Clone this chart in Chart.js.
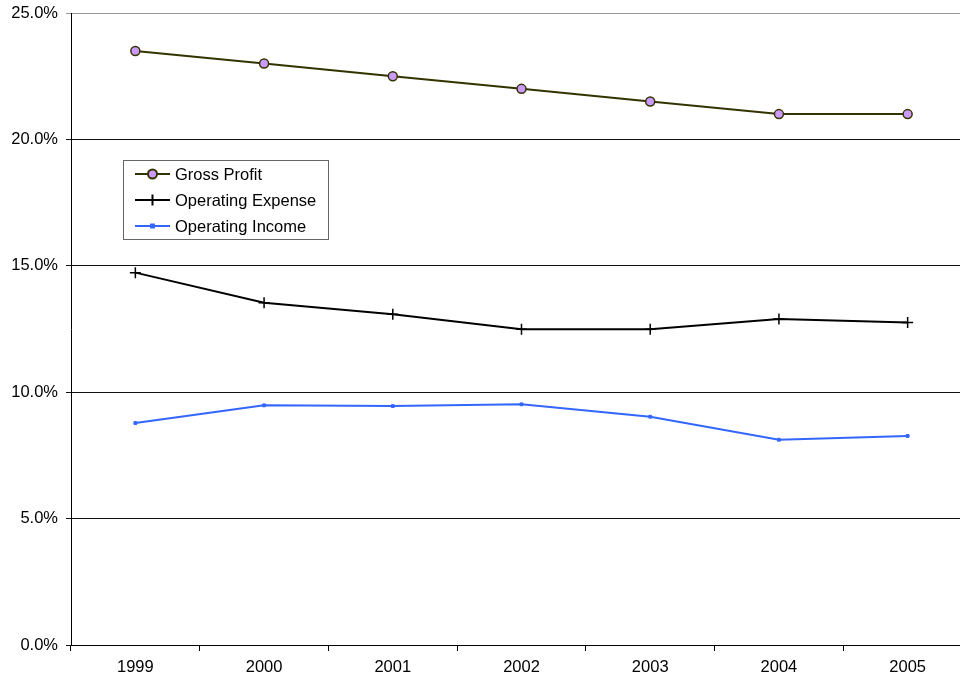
<!DOCTYPE html>
<html>
<head>
<meta charset="utf-8">
<script src="https://cdn.jsdelivr.net/npm/chart.js@4.4.0/dist/chart.umd.min.js"></script>
<style>
  html, body { margin: 0; padding: 0; background: #fff; overflow: hidden; }
  #wrap { width: 960px; height: 683px; overflow: hidden; }
  canvas { display: block; }
</style>
</head>
<body>
<div id="wrap"><canvas id="c" width="979" height="683"></canvas></div>
<script>
// Margin ratios, percent of sales
const years = ['1999', '2000', '2001', '2002', '2003', '2004', '2005'];
const grossProfit = [23.5, 23.0, 22.5, 22.0, 21.5, 21.0, 21.0];
const operatingExpense = [14.73, 13.54, 13.08, 12.49, 12.49, 12.9, 12.76];
const operatingIncome = [8.78, 9.48, 9.45, 9.52, 9.03, 8.12, 8.27];
const seriesNames = ['Gross Profit', 'Operating Expense', 'Operating Income'];

const FONT = '"Liberation Sans", Arial, sans-serif';

// Boxed legend drawn inside the plot area
const boxLegend = {
  id: 'boxLegend',
  afterDraw(chart) {
    const ctx = chart.ctx;
    const box = { x: 123.5, y: 160.5, w: 205, h: 79 };
    ctx.save();
    ctx.fillStyle = '#fff';
    ctx.fillRect(box.x, box.y, box.w, box.h);
    ctx.strokeStyle = '#666';
    ctx.lineWidth = 1;
    ctx.strokeRect(box.x, box.y, box.w, box.h);
    ctx.font = '16.5px ' + FONT;
    ctx.textBaseline = 'middle';
    chart.data.datasets.forEach((ds, i) => {
      const y = 174 + i * 26;
      ctx.strokeStyle = ds.borderColor;
      ctx.lineWidth = ds.borderWidth;
      ctx.beginPath();
      ctx.moveTo(135, y);
      ctx.lineTo(170, y);
      ctx.stroke();
      ctx.fillStyle = ds.pointBackgroundColor;
      ctx.strokeStyle = ds.pointBorderColor;
      Chart.helpers.drawPoint(ctx, {
        pointStyle: ds.pointStyle,
        radius: ds.pointRadius,
        borderWidth: ds.pointBorderWidth,
        rotation: 0
      }, 152.5, y);
      ctx.fillStyle = '#000';
      ctx.fillText(ds.label, 175, y + 1);
    });
    ctx.restore();
  }
};

new Chart(document.getElementById('c'), {
  type: 'line',
  data: {
    labels: years,
    datasets: [
      {
        label: seriesNames[0],
        data: grossProfit,
        borderColor: '#333300',
        borderWidth: 2,
        pointStyle: 'circle',
        pointRadius: 4.5,
        pointBackgroundColor: '#CC99FF',
        pointBorderColor: '#333300',
        pointBorderWidth: 1.5,
        tension: 0
      },
      {
        label: seriesNames[1],
        data: operatingExpense,
        borderColor: '#000000',
        borderWidth: 2,
        pointStyle: 'cross',
        pointRadius: 5.5,
        pointBackgroundColor: '#000000',
        pointBorderColor: '#000000',
        pointBorderWidth: 1.5,
        tension: 0
      },
      {
        label: seriesNames[2],
        data: operatingIncome,
        borderColor: '#3366FF',
        borderWidth: 2,
        pointStyle: 'rect',
        pointRadius: 2,
        pointBackgroundColor: '#3366FF',
        pointBorderColor: '#3366FF',
        pointBorderWidth: 1,
        tension: 0
      }
    ]
  },
  options: {
    responsive: false,
    animation: false,
    layout: { padding: { top: 13, right: 3, left: 0, bottom: 0 } },
    plugins: {
      legend: { display: false },
      tooltip: { enabled: false }
    },
    scales: {
      x: {
        offset: true,
        grid: {
          offset: true,
          drawOnChartArea: false,
          drawTicks: true,
          tickLength: 6,
          color: '#000'
        },
        border: { color: '#000', width: 1 },
        ticks: {
          color: '#000',
          font: { family: FONT, size: 16.5 },
          padding: 7,
          maxRotation: 0
        },
        afterFit(scale) {
          scale.height = 38;
          scale.paddingLeft = 0;
          scale.paddingRight = 0;
        }
      },
      y: {
        min: 0,
        max: 25,
        grid: {
          color: (c) => (c.tick && c.tick.value === 25 ? '#999' : '#111'),
          drawTicks: true,
          tickLength: 5
        },
        border: { color: '#000', width: 1 },
        ticks: {
          stepSize: 5,
          color: '#000',
          font: { family: FONT, size: 16.5 },
          padding: 8,
          callback: (v) => v.toFixed(1) + '%'
        },
        afterFit(scale) {
          scale.width = 71;
          scale.paddingTop = 0;
          scale.paddingBottom = 0;
        }
      }
    }
  },
  plugins: [boxLegend]
});
</script>
</body>
</html>
